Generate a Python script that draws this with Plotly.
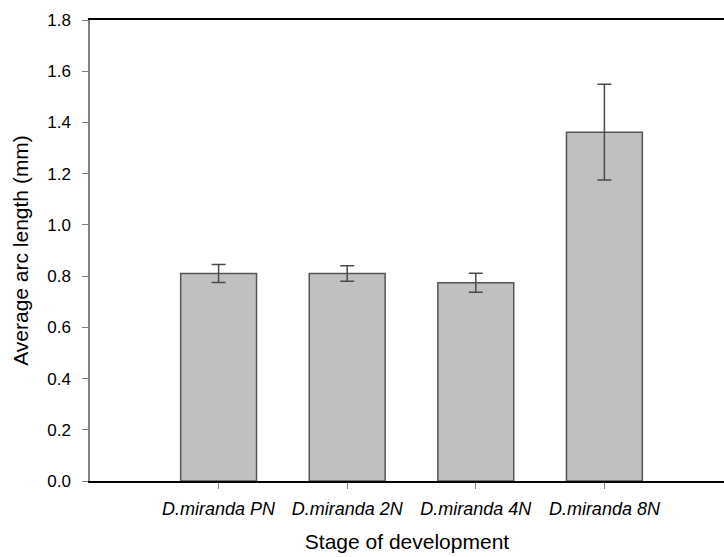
import plotly.graph_objects as go

stages = ["D.miranda PN", "D.miranda 2N", "D.miranda 4N", "D.miranda 8N"]
arc_length = [0.81, 0.81, 0.774, 1.362]
arc_error = [0.035, 0.03, 0.037, 0.187]
y_ticks = [0.0, 0.2, 0.4, 0.6, 0.8, 1.0, 1.2, 1.4, 1.6, 1.8]

font_family = "Liberation Sans, Arial, sans-serif"
positions = list(range(len(stages)))

fig = go.Figure()
fig.add_trace(go.Bar(
    x=positions,
    y=arc_length,
    width=0.59,
    marker=dict(color="#c0c0c0", line=dict(color="#555555", width=1.5)),
    error_y=dict(type="data", array=arc_error, visible=True,
                 color="#4a4a4a", thickness=1.5, width=7),
    showlegend=False,
))

fig.update_layout(
    width=724, height=557,
    margin=dict(l=90, r=0, t=20, b=76),
    plot_bgcolor="white", paper_bgcolor="white",
    font=dict(family=font_family, color="black"),
    xaxis=dict(
        range=[-1, 3.93],
        tickvals=positions, ticktext=stages,
        tickfont=dict(size=18, style="italic", color="black"),
        ticks="outside", ticklen=6, tickcolor="#808080", tickwidth=1,
        ticklabelstandoff=5,
        showline=True, linecolor="black", linewidth=1.5, mirror=True,
        showgrid=False, zeroline=False,
        title=dict(text="Stage of development", font=dict(size=21), standoff=16),
    ),
    yaxis=dict(
        range=[0, 1.8],
        tickvals=y_ticks, tickformat=".1f",
        tickfont=dict(size=17, color="black"),
        ticks="outside", ticklen=6, tickcolor="#808080", tickwidth=1,
        ticklabelstandoff=8,
        showline=True, linecolor="#808080", linewidth=1.5,
        showgrid=False, zeroline=False,
        title=dict(text="Average arc length (mm)", font=dict(size=21), standoff=13),
    ),
)

fig.write_html("out.html")
